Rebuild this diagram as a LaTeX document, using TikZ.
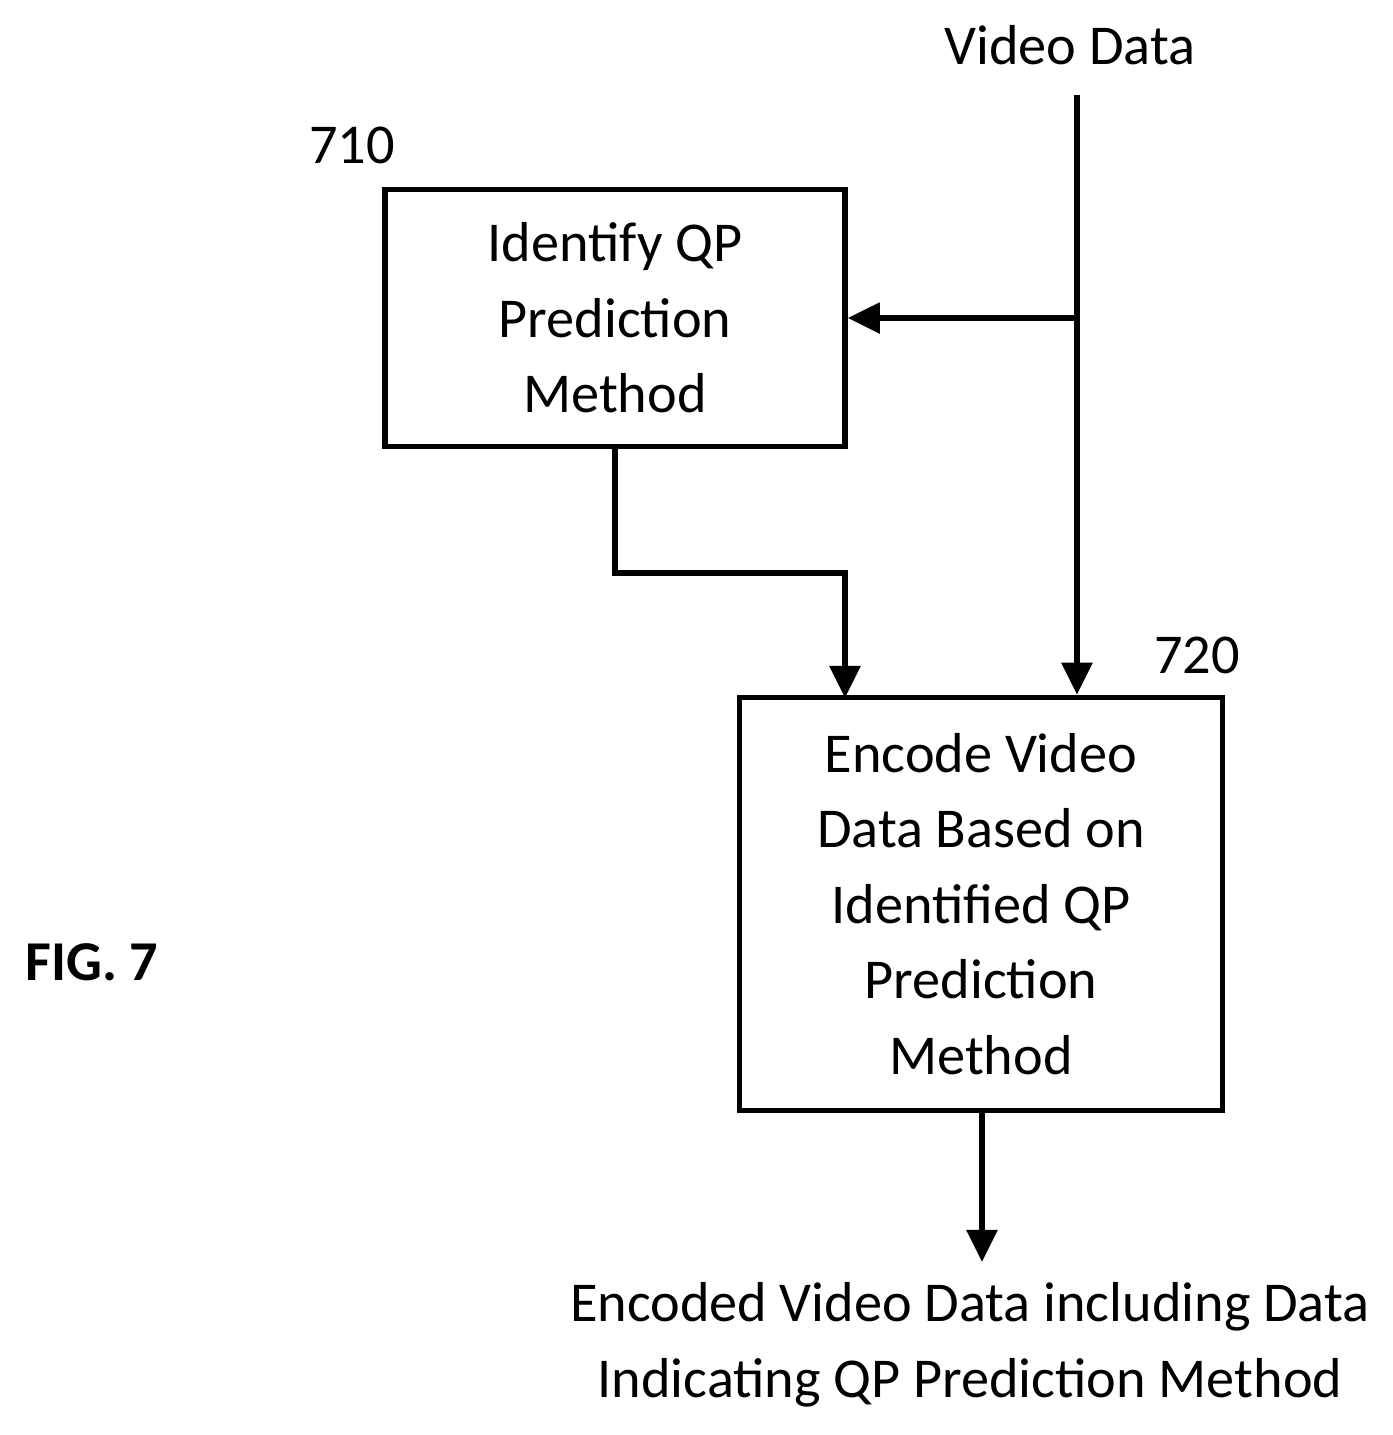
\documentclass[tikz,border=0pt]{standalone}
\usepackage{fontspec}
\setmainfont{Carlito}
\usetikzlibrary{arrows.meta,positioning}
\tikzset{
  stepbox/.style={draw, line width=1.5pt, align=center, font=\fontsize{16}{21.5}\selectfont},
  flow/.style={line width=1.5pt, -{Triangle[length=0.32cm,width=0.3cm]}},
  lbl/.style={font=\fontsize{16}{21.5}\selectfont}
}
\begin{document}
\begin{tikzpicture}[x=0.01cm,y=-0.01cm]
  \useasboundingbox (0,0) rectangle (1393,1435);
  \node[stepbox, minimum width=4.6cm, minimum height=2.57cm] (identify) at (615,318) {Identify QP\\Prediction\\Method};
  \node[stepbox, minimum width=4.82cm, minimum height=4.13cm] (encode) at (981,904) {Encode Video\\Data Based on\\Identified QP\\Prediction\\Method};
  \node[lbl] (n710) at (352,145) {710};
  \node[lbl] (n720) at (1197,655) {720};
  \node[lbl] (video) at (1070,45) {Video Data};
  \node[lbl, align=center] (out) at (970,1345) {Encoded Video Data including Data\\Indicating QP Prediction Method};
  \node[lbl, font=\fontsize{16}{20}\selectfont\bfseries] (fig) at (92,962) {FIG. 7};
  \coordinate (vtop) at (1077,95);
  \coordinate (split) at (1077,318);
  \coordinate (bend) at (615,573);
  \coordinate (end) at (982,1262);
  \draw[line width=1.5pt] (vtop) -- (split);
  \draw[flow] (split) -- (identify.east);
  \draw[flow] (split) -- (split |- encode.north);
  \draw[flow] (identify.south) -- (bend) -| (845,698);
  \draw[flow] (encode.south -| end) -- (end);
\end{tikzpicture}
\end{document}
